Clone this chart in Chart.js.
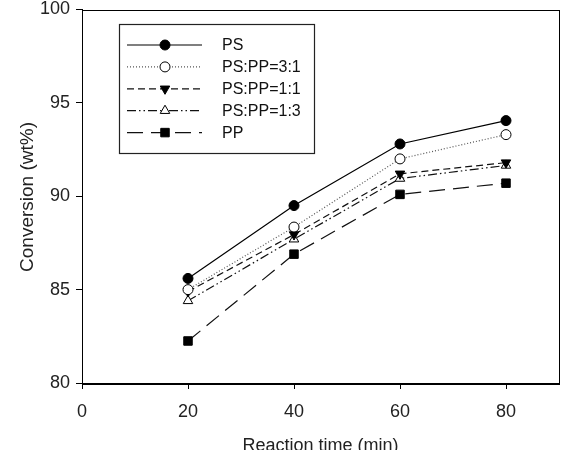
<!DOCTYPE html>
<html>
<head>
<meta charset="utf-8">
<script src="https://cdn.jsdelivr.net/npm/chart.js@4/dist/chart.umd.min.js"></script>
<style>
html,body{margin:0;padding:0;background:#fff;}
#wrap{width:561px;height:450px;position:relative;}
</style>
</head>
<body>
<div id="wrap"><canvas id="c" width="561" height="450"></canvas></div>
<script>
// ---- data ----
const times = [20, 40, 60, 80];
const seriesLabels = ['PS', 'PS:PP=3:1', 'PS:PP=1:1', 'PS:PP=1:3', 'PP'];
const psValues   = [85.6, 89.5, 92.8, 94.05];
const ps31Values = [85.0, 88.35, 92.0, 93.3];
const ps11Values = [84.9, 87.95, 91.2, 91.8];
const ps13Values = [84.4, 87.7, 90.95, 91.65];
const ppValues   = [82.25, 86.9, 90.1, 90.7];
const xTickValues = [0, 20, 40, 60, 80];
const yTickValues = [80, 85, 90, 95, 100];
const xAxisTitle = 'Reaction time (min)';
const yAxisTitle = 'Conversion (wt%)';

const FONT = "'Liberation Sans', Arial, sans-serif";

function pts(vals){ return times.map((t,i)=>({x:t, y:vals[i]})); }

const styles = [
  {dash:[], color:'#000', pointStyle:'circle', fill:'#000', r:5, rot:0},
  {dash:[1,2], color:'#555', pointStyle:'circle', fill:'#fff', r:5, rot:0},
  {dash:[7,4], color:'#111', pointStyle:'triangle', fill:'#000', r:5.5, rot:180},
  {dash:[9,3,1.5,3,1.5,3], color:'#111', pointStyle:'triangle', fill:'#fff', r:5.5, rot:0},
  {dash:[16,8], color:'#111', pointStyle:'rect', fill:'#000', r:6, rot:0}
];
const allValues = [psValues, ps31Values, ps11Values, ps13Values, ppValues];

const datasets = allValues.map((v,i)=>({
  label: seriesLabels[i],
  data: pts(v),
  borderColor: styles[i].color,
  borderWidth: 1.2,
  borderDash: styles[i].dash,
  pointStyle: styles[i].pointStyle,
  pointRadius: styles[i].r,
  pointRotation: styles[i].rot,
  pointBackgroundColor: styles[i].fill,
  pointBorderColor: '#000',
  pointBorderWidth: 1,
  fill:false,
  tension:0
}));

const framePlugin = {
  id:'frame',
  afterDraw(chart){
    const {ctx, chartArea:a} = chart;
    ctx.save();
    ctx.strokeStyle = '#000';
    ctx.lineWidth = 1;
    ctx.strokeRect(Math.round(a.left)+0.5, Math.round(a.top)+0.5, Math.round(a.right-a.left), Math.round(a.bottom-a.top));
    // axis titles
    ctx.fillStyle = '#222';
    ctx.font = "18px " + FONT;
    ctx.textAlign = 'center';
    ctx.textBaseline = 'alphabetic';
    ctx.fillText(xAxisTitle, (a.left+a.right)/2, 451);
    ctx.save();
    ctx.font = "19px " + FONT;
    ctx.translate(33, 197);
    ctx.rotate(-Math.PI/2);
    ctx.fillText(yAxisTitle, 0, 0);
    ctx.restore();
    // legend
    const bx=119, by=24, bw=195, bh=129;
    ctx.lineWidth = 1.2;
    ctx.strokeStyle = '#222';
    ctx.strokeRect(bx+0.5, by+0.5, bw, bh);
    ctx.textBaseline = 'middle';
    chart.data.datasets.forEach((ds,i)=>{
      const y = 45 + i*21.9;
      ctx.save();
      ctx.strokeStyle = ds.borderColor;
      ctx.lineWidth = ds.borderWidth;
      ctx.setLineDash(ds.borderDash);
      ctx.beginPath();
      ctx.moveTo(127, y); ctx.lineTo(202, y);
      ctx.stroke();
      ctx.restore();
      if (Chart.helpers && Chart.helpers.drawPoint) {
        ctx.save();
        ctx.fillStyle = ds.pointBackgroundColor;
        ctx.strokeStyle = ds.pointBorderColor;
        ctx.lineWidth = ds.pointBorderWidth;
        ctx.setLineDash([]);
        Chart.helpers.drawPoint(ctx, {pointStyle: ds.pointStyle, radius: ds.pointRadius, rotation: ds.pointRotation, borderWidth: ds.pointBorderWidth}, 165, y);
        ctx.restore();
      }
      ctx.fillStyle = '#111';
      ctx.font = "16px " + FONT;
      ctx.textAlign = 'left';
      ctx.fillText(ds.label, 222, y+1);
    });
    ctx.restore();
  }
};

new Chart(document.getElementById('c'), {
  type:'line',
  data:{datasets},
  options:{
    responsive:false,
    animation:false,
    layout:{autoPadding:false, padding:{top:9.5, right:2, left:0, bottom:0}},
    plugins:{legend:{display:false}, tooltip:{enabled:false}},
    scales:{
      x:{
        type:'linear', min:0, max:90,
        afterBuildTicks(s){ s.ticks = xTickValues.map(v=>({value:v})); },
        afterFit(s){ s.height = 67; s.paddingLeft = 0; s.paddingRight = 0; },
        grid:{display:true, drawOnChartArea:false, drawTicks:true, tickLength:6, color:'#000', tickColor:'#000'},
        border:{display:true, color:'#000', width:1},
        ticks:{color:'#222', font:{family:FONT, size:18}, padding:12, maxRotation:0},
        title:{display:false}
      },
      y:{
        type:'linear', min:80, max:100,
        afterBuildTicks(s){ s.ticks = yTickValues.map(v=>({value:v})); },
        afterFit(s){ s.width = 82; s.paddingTop = 0; s.paddingBottom = 0; },
        grid:{display:true, drawOnChartArea:false, drawTicks:true, tickLength:6, color:'#000', tickColor:'#000'},
        border:{display:true, color:'#000', width:1},
        ticks:{color:'#222', font:{family:FONT, size:18}, padding:6},
        title:{display:false}
      }
    }
  },
  plugins:[framePlugin]
});
</script>
</body>
</html>
